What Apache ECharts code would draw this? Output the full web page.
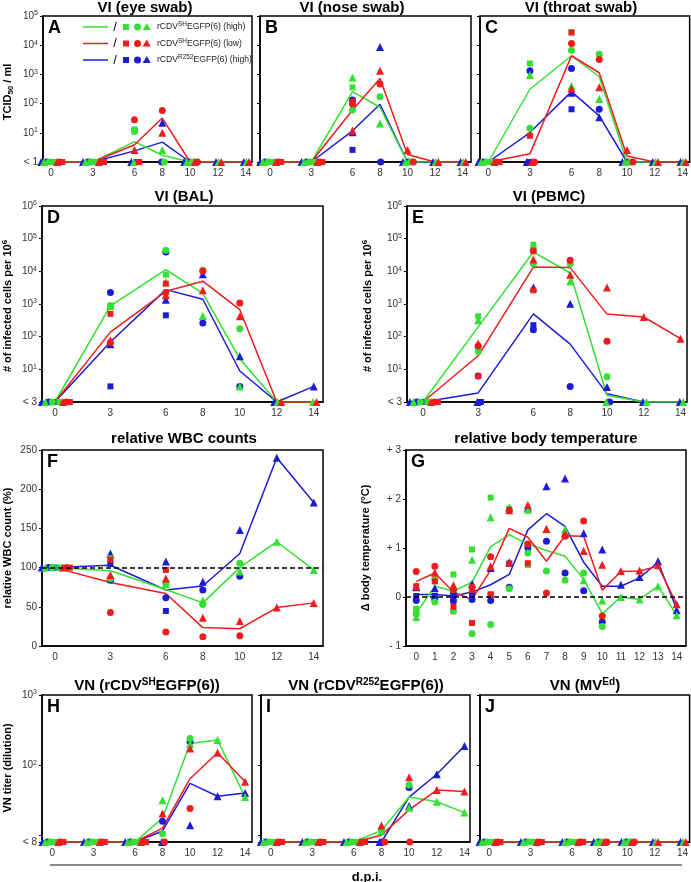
<!DOCTYPE html>
<html><head><meta charset="utf-8">
<script src="https://cdn.jsdelivr.net/npm/echarts@6/dist/echarts.min.js"></script>
<style>html,body{margin:0;padding:0;background:#fff}#c{width:691px;height:882px}</style>
</head><body><div id="c"></div><script>
// ---------- days & tick labels ----------
const days = [0, 3, 6, 8, 10, 12, 14];
const daysG = [0, 1, 2, 3, 4, 5, 6, 7, 8, 9, 10, 11, 12, 13, 14];
const xTicks = [0, 3, 6, 8, 10, 12, 14];
const xTicksG = [0, 1, 2, 3, 4, 5, 6, 7, 8, 9, 10, 11, 12, 13, 14];

// ---------- A: VI eye swab (TCID50/ml, <1 plotted at 1) ----------
const A_g_sq = [1, 1, 13, null, null, null, null];
const A_g_ci = [1, 1, 11, 1, 1, null, null];
const A_g_tr = [1, 1, 1, 2.6, 1, 1, 1];
const A_r_sq = [1, 1, 1, null, null, null, null];
const A_r_ci = [1, 1, 28, 58, 1, null, null];
const A_r_tr = [1, 1, 2.6, 10, 1, 1, 1];
const A_b_sq = [1, 1, 1, null, null, null, null];
const A_b_ci = [1, 1, 12, 1, 1, null, null];
const A_b_tr = [1, 1, 1, 22, 1, 1, 1];
const A_g_line = [1, 1, 5, 1.7, 1, 1, 1];
const A_r_line = [1, 1, 3.9, 32, 1, 1, 1];
const A_b_line = [1, 1, 2.4, 4.8, 1, 1, 1];

// ---------- B: VI nose swab ----------
const B_g_sq = [1, 1, 360, null, null, null, null];
const B_g_ci = [1, 1, 60, 173, 1, null, null];
const B_g_tr = [1, 1, 790, 21, 1, 1, 1];
const B_r_sq = [1, 1, 117, null, null, null, null];
const B_r_ci = [1, 1, 97, 470, 1, null, null];
const B_r_tr = [1, 1, 12, 1330, 2.6, 1, 1];
const B_b_sq = [1, 1, 2.6, null, null, null, null];
const B_b_ci = [1, 1, 133, 1, 1, null, null];
const B_b_tr = [1, 1, 10.5, 8700, 1, 1, 1];
const B_g_line = [1, 1, 257, 75, 1, 1, 1];
const B_r_line = [1, 1, 60, 730, 1.8, 1, 1];
const B_b_line = [1, 1, 11.7, 95, 1, 1, 1];

// ---------- C: VI throat swab ----------
const C_g_sq = [1, 2370, 28300, null, null, null, null];
const C_g_ci = [1, 14.4, 6700, 4900, 1, null, null];
const C_g_tr = [1, 950, 400, 145, 1, 1, 1];
const C_r_sq = [1, 7.9, 27000, null, null, null, null];
const C_r_ci = [1, 1, 11500, 3240, 1, null, null];
const C_r_tr = [1, 1, 330, 360, 2.6, 1, 1];
const C_b_sq = [1, 1, 64, null, null, null, null];
const C_b_ci = [1, 1330, 1600, 64, 1, null, null];
const C_b_tr = [1, 1, 237, 34, 1, 1, 1];
const C_g_line = [1, 310, 4350, 830, 1, 1, 1];
const C_r_line = [1, 1.9, 4350, 1140, 1.6, 1, 1];
const C_b_line = [1, 10.2, 257, 38, 1, 1, 1];

// ---------- D: VI BAL (<3 plotted at 1) ----------
const D_g_sq = [1, 900, 7900, null, null, null, null];
const D_g_ci = [1, 870, 44000, 10700, 175, null, null];
const D_g_tr = [1, 870, 4700, 430, 3, 1, 1];
const D_r_sq = [1, 500, 4200, null, null, null, null];
const D_r_ci = [1, 66, 2250, 10200, 1070, null, null];
const D_r_tr = [1, 78, 1860, 2630, 420, 1, 1];
const D_b_sq = [1, 3, 450, null, null, null, null];
const D_b_ci = [1, 2240, 39000, 260, 3, null, null];
const D_b_tr = [1, 59, 1350, 8100, 25, 1, 3];
const D_g_line = [1, 870, 11200, 2100, 21, 1, 1];
const D_r_line = [1, 138, 2450, 5000, 670, 1, 1];
const D_b_line = [1, 69, 2750, 1400, 8.9, 1, 3];

// ---------- E: VI PBMC ----------
const E_g_sq = [1, 420, 65000, null, null, null, null];
const E_g_ci = [1, 35, 17000, 17000, 5.9, null, null];
const E_g_tr = [1, 316, 63000, 4900, 1, 1, 1];
const E_r_sq = [1, 6.2, 2630, null, null, null, null];
const E_r_ci = [1, 52, 42000, 22000, 72, null, null];
const E_r_tr = [1, 62, 23000, 7900, 3200, 400, 87];
const E_b_sq = [1, 1, 225, null, null, null, null];
const E_b_ci = [1, 6.2, 164, 3, 1, null, null];
const E_b_tr = [1, 1, 3200, 1020, 2.9, 1, 1];
const E_g_line = [1, 200, 39000, 8900, 1.6, 1, 1];
const E_r_line = [1, 26, 13500, 13000, 490, 400, 87];
const E_b_line = [1, 1.9, 500, 59, 1.8, 1, 1];

// ---------- F: relative WBC counts (%) ----------
const F_g_sq = [100, 112, 79, null, null, null, null];
const F_g_ci = [100, 86, 80, 53, 105.5, null, null];
const F_g_tr = [100, 90, 79, 58, 95, 133, 97];
const F_r_sq = [100, 110, 97, null, null, null, null];
const F_r_ci = [100, 42.6, 18, 11.8, 13, null, null];
const F_r_tr = [100, 90.6, 86, 36, 32, 49, 55];
const F_b_sq = [100, 104.7, 44.7, null, null, null, null];
const F_b_ci = [100, 84, 61.7, 71.5, 89, null, null];
const F_b_tr = [100, 118, 107.7, 82, 148, 240, 183];
const F_g_line = [100, 96, 72, 55, 100, 133, 97];
const F_r_line = [100, 81, 67, 23.5, 22, 49, 55];
const F_b_line = [100, 103, 71.5, 76.6, 118, 240, 183];

// ---------- G: relative body temperature (°C) ----------
const G_g_sq = [-0.24, 0.32, 0.46, 0.97, 2.03, 1.8, 0.65, null, null, null, null, null, null, null, null];
const G_g_ci = [-0.34, -0.1, -0.29, -0.75, -0.56, 0.17, 0.9, 0.53, 0.34, 0.49, -0.6, null, null, null, null];
const G_g_tr = [-0.41, 0.44, 0.19, 0.76, 1.63, 1.83, 1.78, 1.39, 1.38, 0.34, -0.07, 0, -0.05, 0.22, -0.37];
const G_r_sq = [0.22, 0.32, -0.2, -0.53, 0.05, 0.68, 0.69, null, null, null, null, null, null, null, null];
const G_r_ci = [0.52, 0.63, 0.15, 0.2, 0.82, 1.77, 1.08, 0.08, 1.24, 1.55, -0.39, null, null, null, null];
const G_r_tr = [0.22, 0.5, 0.24, 0.17, 0.63, 1.77, 1.88, 1.39, 1.29, 0.94, 0.66, 0.53, 0.54, 0.65, -0.15];
const G_b_sq = [0.02, 0.02, 0.0, 0.05, 0.05, 0.68, 1.05, null, null, null, null, null, null, null, null];
const G_b_ci = [-0.07, -0.05, -0.08, -0.05, -0.07, 0.2, 1.0, 1.14, 0.49, 0.13, -0.51, null, null, null, null];
const G_b_tr = [0.2, 0.18, 0.14, 0.27, 0.59, 0.71, 1.82, 2.26, 2.42, 1.3, 0.97, 0.25, 0.41, 0.73, -0.27];
const G_g_line = [-0.33, 0.22, 0.12, 0.3, 1.03, 1.27, 1.08, 0.95, 0.83, 0.36, -0.34, 0, -0.05, 0.22, -0.37];
const G_r_line = [0.32, 0.49, 0.1, -0.05, 0.55, 1.4, 1.22, 0.73, 1.25, 1.24, 0.14, 0.52, 0.53, 0.63, -0.15];
const G_b_line = [0.05, 0.05, 0.02, 0.1, 0.25, 0.46, 1.37, 1.7, 1.44, 0.71, 0.22, 0.22, 0.39, 0.71, -0.25];

// ---------- H: VN rCDV-SH (<8 plotted at 8) ----------
const H_g_sq = [8, 8, 8, null, null, null, null];
const H_g_ci = [8, 8, 8, 10.5, 240, null, null];
const H_g_tr = [8, 8, 8, 31.6, 200, 228, 35];
const H_r_sq = [8, 8, 8, null, null, null, null];
const H_r_ci = [8, 8, 8, 8, 24, null, null];
const H_r_tr = [8, 8, 8, 20.4, 173, 150, 58];
const H_b_sq = [8, 8, 8, null, null, null, null];
const H_b_ci = [8, 8, 8, 15.8, 215, null, null];
const H_b_tr = [8, 8, 8, 8, 13.9, 36, 40];
const H_g_line = [8, 8, 8, 17.5, 204, 228, 35];
const H_r_line = [8, 8, 8, 12.6, 64, 150, 58];
const H_b_line = [8, 8, 8, 11.5, 55, 36, 40];

// ---------- I: VN rCDV-R252 ----------
const I_g_sq = [8, 8, 8, null, null, null, null];
const I_g_ci = [8, 8, 8, 12, 52, null, null];
const I_g_tr = [8, 8, 8, 11.4, 24.6, 30, 21];
const I_r_sq = [8, 8, 8, null, null, null, null];
const I_r_ci = [8, 8, 8, 8, 8, null, null];
const I_r_tr = [8, 8, 8, 13.8, 67, 44, 42];
const I_b_sq = [8, 8, 8, null, null, null, null];
const I_b_ci = [8, 8, 8, 8, 48, null, null];
const I_b_tr = [8, 8, 8, 8, 26, 74, 187];
const I_g_line = [8, 8, 8, 11.7, 35, 30, 21];
const I_r_line = [8, 8, 8, 10, 23, 44, 42];
const I_b_line = [8, 8, 8, 8, 35, 74, 187];

// ---------- J: VN MV-Ed ----------
const J_g_sq = [8, 8, 8, null, null, null, null];
const J_g_ci = [8, 8, 8, 8, 8, null, null];
const J_g_tr = [8, 8, 8, 8, 8, 8, 8];
const J_r_sq = [8, 8, 8, null, null, null, null];
const J_r_ci = [8, 8, 8, 8, 8, null, null];
const J_r_tr = [8, 8, 8, 8, 8, 8, 8];
const J_b_sq = [8, 8, 8, null, null, null, null];
const J_b_ci = [8, 8, 8, 8, 8, null, null];
const J_b_tr = [8, 8, 8, 8, 8, 8, 8];
const J_g_line = [8, 8, 8, 8, 8, 8, 8];
const J_r_line = [8, 8, 8, 8, 8, 8, 8];
const J_b_line = [8, 8, 8, 8, 8, 8, 8];

// ---------- text ----------
const titles = ['VI (eye swab)', 'VI (nose swab)', 'VI (throat swab)', 'VI (BAL)', 'VI (PBMC)',
  'relative WBC counts', 'relative body temperature',
  'VN (rCDV{sup|SH}EGFP(6))', 'VN (rCDV{sup|R252}EGFP(6))', 'VN (MV{sup|Ed})'];
const legendTexts = ['rCDV{sup|SH}EGFP(6) (high)', 'rCDV{sup|SH}EGFP(6) (low)', 'rCDV{sup|R252}EGFP(6) (high)'];

// ---------- layout / style ----------
const FONT = '"Liberation Sans", Arial, Helvetica, sans-serif';
const COL = { g: '#33e033', r: '#ee1c1c', b: '#1c1cd4' };
const SHAPES = ['rect', 'circle', 'triangle'];
const SIZES = [6, 7, 8];

const P = [
  { k: 'A', left: 43, top: 16, w: 209, h: 146, xMin: -0.58, xMax: 14.45, log: true, yMin: 1, yMax: 1e5, lodTxt: '< 1', yLab: true, tx: 145, ty: 8, x: days, xt: xTicks, jit: 1,
    d: { g: [A_g_sq, A_g_ci, A_g_tr, A_g_line], r: [A_r_sq, A_r_ci, A_r_tr, A_r_line], b: [A_b_sq, A_b_ci, A_b_tr, A_b_line] } },
  { k: 'B', left: 260, top: 16, w: 211, h: 146, xMin: -0.73, xMax: 14.62, log: true, yMin: 1, yMax: 1e5, lodTxt: '< 1', yLab: false, tx: 352, ty: 8, x: days, xt: xTicks, jit: 1,
    d: { g: [B_g_sq, B_g_ci, B_g_tr, B_g_line], r: [B_r_sq, B_r_ci, B_r_tr, B_r_line], b: [B_b_sq, B_b_ci, B_b_tr, B_b_line] } },
  { k: 'C', left: 480, top: 16, w: 210, h: 146, xMin: -0.6, xMax: 14.52, log: true, yMin: 1, yMax: 1e5, lodTxt: '< 1', yLab: false, tx: 581, ty: 8, x: days, xt: xTicks, jit: 1,
    d: { g: [C_g_sq, C_g_ci, C_g_tr, C_g_line], r: [C_r_sq, C_r_ci, C_r_tr, C_r_line], b: [C_b_sq, C_b_ci, C_b_tr, C_b_line] } },
  { k: 'D', left: 42, top: 206, w: 281, h: 196, xMin: -0.7, xMax: 14.5, log: true, yMin: 1, yMax: 1e6, lodTxt: '< 3', yLab: true, tx: 184, ty: 197, x: days, xt: xTicks, jit: 1,
    d: { g: [D_g_sq, D_g_ci, D_g_tr, D_g_line], r: [D_r_sq, D_r_ci, D_r_tr, D_r_line], b: [D_b_sq, D_b_ci, D_b_tr, D_b_line] } },
  { k: 'E', left: 407, top: 206, w: 280, h: 196, xMin: -0.87, xMax: 14.35, log: true, yMin: 1, yMax: 1e6, lodTxt: '< 3', yLab: true, tx: 549, ty: 197, x: days, xt: xTicks, jit: 1,
    d: { g: [E_g_sq, E_g_ci, E_g_tr, E_g_line], r: [E_r_sq, E_r_ci, E_r_tr, E_r_line], b: [E_b_sq, E_b_ci, E_b_tr, E_b_line] } },
  { k: 'F', left: 42, top: 450, w: 281, h: 196, xMin: -0.7, xMax: 14.5, log: false, yMin: 0, yMax: 250, yInt: 50, yLab: true, tx: 184, ty: 439, x: days, xt: xTicks, jit: 100, jitDays: [0], ref: 100,
    d: { g: [F_g_sq, F_g_ci, F_g_tr, F_g_line], r: [F_r_sq, F_r_ci, F_r_tr, F_r_line], b: [F_b_sq, F_b_ci, F_b_tr, F_b_line] } },
  { k: 'G', left: 406, top: 450, w: 280, h: 196, xMin: -0.55, xMax: 14.5, log: false, yMin: -1, yMax: 3, yInt: 1, yLab: true, temp: true, tx: 546, ty: 439, x: daysG, xt: xTicksG, jit: null, ref: 0,
    d: { g: [G_g_sq, G_g_ci, G_g_tr, G_g_line], r: [G_r_sq, G_r_ci, G_r_tr, G_r_line], b: [G_b_sq, G_b_ci, G_b_tr, G_b_line] } },
  { k: 'H', left: 42, top: 695, w: 210, h: 147, xMin: -0.75, xMax: 14.5, log: true, yMin: 8, yMax: 1000, lodTxt: '< 8', yLab: true, tx: 147, ty: 686, x: days, xt: xTicks, jit: 8,
    d: { g: [H_g_sq, H_g_ci, H_g_tr, H_g_line], r: [H_r_sq, H_r_ci, H_r_tr, H_r_line], b: [H_b_sq, H_b_ci, H_b_tr, H_b_line] } },
  { k: 'I', left: 261, top: 695, w: 209, h: 147, xMin: -0.7, xMax: 14.4, log: true, yMin: 8, yMax: 1000, lodTxt: '< 8', yLab: false, tx: 366, ty: 686, x: days, xt: xTicks, jit: 8,
    d: { g: [I_g_sq, I_g_ci, I_g_tr, I_g_line], r: [I_r_sq, I_r_ci, I_r_tr, I_r_line], b: [I_b_sq, I_b_ci, I_b_tr, I_b_line] } },
  { k: 'J', left: 480, top: 695, w: 210, h: 147, xMin: -0.67, xMax: 14.52, log: true, yMin: 8, yMax: 1000, lodTxt: '< 8', yLab: false, tx: 585, ty: 686, x: days, xt: xTicks, jit: 8,
    d: { g: [J_g_sq, J_g_ci, J_g_tr, J_g_line], r: [J_r_sq, J_r_ci, J_r_tr, J_r_line], b: [J_b_sq, J_b_ci, J_b_tr, J_b_line] } }
];

// order in which markers sitting on the detection limit are spread side by side
const ORDER = [['b', 2], ['g', 2], ['b', 1], ['g', 1], ['b', 0], ['g', 0], ['r', 2], ['r', 1], ['r', 0]];
const JSTEP = 0.19;
function jitterMap(p) {
  const m = {};
  if (p.jit == null) return m;
  p.x.forEach((d, k) => {
    if (p.jitDays && p.jitDays.indexOf(d) < 0) return;
    const list = ORDER.filter(([g, s]) => { const v = p.d[g][s][k]; return v != null && v === p.jit; });
    const n = list.length;
    list.forEach(([g, s], i) => { m[g + s + '_' + k] = (i - (n - 1) / 2) * JSTEP + 0.05; });
  });
  return m;
}

const labRich = { s: { fontSize: 7, lineHeight: 7, verticalAlign: 'top', color: '#333', fontFamily: FONT } };
function logFmt(p) {
  return function (v) {
    if (Math.abs(v - p.yMin) / p.yMin < 0.05) return p.lodTxt;
    const l = Math.log10(v), e = Math.round(l);
    if (Math.abs(l - e) > 0.01) return '';
    if (p.yMin === 8 && e === 1) return '';
    return '10{s|' + e + '}';
  };
}

const grids = [], xAxes = [], yAxes = [], series = [];
P.forEach((p, i) => {
  grids.push({ left: p.left, top: p.top, width: p.w, height: p.h, show: true, borderColor: '#000', borderWidth: 1.5, backgroundColor: 'transparent' });
  xAxes.push({
    gridIndex: i, type: 'value', min: p.xMin, max: p.xMax,
    axisLine: { show: true, onZero: false, lineStyle: { color: '#000', width: 1.5 } },
    axisTick: { show: false }, splitLine: { show: false },
    axisLabel: { customValues: p.xt, fontSize: 10, color: '#333', margin: 6, fontFamily: FONT }
  });
  const ya = {
    gridIndex: i,
    axisLine: { show: true, onZero: false, lineStyle: { color: '#000', width: 1.5 } },
    splitLine: { show: false },
    axisTick: { show: true, length: 3, lineStyle: { color: '#000', width: 1 } },
    axisLabel: { show: p.yLab, fontSize: 10, color: '#333', margin: 5, lineHeight: 12, fontFamily: FONT, rich: labRich }
  };
  if (p.log) {
    ya.type = 'log'; ya.logBase = 10; ya.min = p.yMin; ya.max = p.yMax;
    ya.axisLabel.formatter = logFmt(p);
  } else {
    ya.type = 'value'; ya.min = p.yMin; ya.max = p.yMax; ya.interval = p.yInt;
    if (p.temp) ya.axisLabel.formatter = v => v > 0 ? '+ ' + v : (v < 0 ? '- ' + (-v) : '0');
  }
  yAxes.push(ya);

  ['b', 'g', 'r'].forEach((g, gi) => {
    const s = {
      type: 'line', xAxisIndex: i, yAxisIndex: i, symbol: 'none', silent: true, animation: false, z: 2,
      data: p.x.map((d, k) => [d, p.d[g][3][k]]),
      lineStyle: { color: COL[g], width: 1.5 }
    };
    if (gi === 0 && p.ref != null) {
      s.markLine = { silent: true, symbol: ['none', 'none'], label: { show: false }, animation: false,
        lineStyle: { type: [5, 3], color: '#000', width: 1.5 }, data: [{ yAxis: p.ref }] };
    }
    series.push(s);
  });
  const jm = jitterMap(p);
  ['b', 'g', 'r'].forEach(g => {
    [0, 1, 2].forEach(sh => {
      const arr = p.d[g][sh];
      const data = [];
      p.x.forEach((d, k) => {
        const v = arr[k];
        if (v == null) return;
        data.push([d + (jm[g + sh + '_' + k] || 0), v]);
      });
      series.push({
        type: 'scatter', xAxisIndex: i, yAxisIndex: i, data, symbol: SHAPES[sh], symbolSize: SIZES[sh],
        itemStyle: { color: COL[g], opacity: 1 }, clip: false, z: 3, silent: true, animation: false
      });
    });
  });
});

// ---------- graphic (titles, letters, axis names, legend, footer) ----------
const graphic = [];
const titleRich = { sup: { fontSize: 10, lineHeight: 10, fontWeight: 'bold', verticalAlign: 'top', fill: '#000', fontFamily: FONT } };
P.forEach((p, i) => {
  graphic.push({ type: 'text', x: p.tx, y: p.ty, z: 100, silent: true,
    style: { text: titles[i], fill: '#000', fontSize: 15, fontWeight: 'bold', fontFamily: FONT, lineHeight: 18,
      align: 'center', verticalAlign: 'middle', rich: titleRich } });
  graphic.push({ type: 'text', x: p.left + 5, y: p.top + 3, z: 100, silent: true,
    style: { text: p.k, fill: '#000', fontSize: 18, fontWeight: 'bold', fontFamily: FONT, align: 'left', verticalAlign: 'top' } });
});
const nameRich = {
  sub: { fontSize: 8, lineHeight: 8, fontWeight: 'bold', verticalAlign: 'bottom', fill: '#000', fontFamily: FONT },
  sup: { fontSize: 8, lineHeight: 8, fontWeight: 'bold', verticalAlign: 'top', fill: '#000', fontFamily: FONT }
};
[
  [8, 92, 'TCID{sub|50} / ml'],
  [8, 306, '# of infected cells per 10{sup|6}'],
  [368, 306, '# of infected cells per 10{sup|6}'],
  [8, 548, 'relative WBC count (%)'],
  [366, 548, 'Δ body temperature (°C)'],
  [8, 768, 'VN titer (dilution)']
].forEach(([x, y, t]) => {
  graphic.push({ type: 'text', x, y, rotation: Math.PI / 2, z: 100, silent: true,
    style: { text: t, fill: '#000', fontSize: 11, fontWeight: 'bold', fontFamily: FONT, lineHeight: 14,
      align: 'center', verticalAlign: 'middle', rich: nameRich } });
});
// legend in panel A
const legRich = { sup: { fontSize: 6.5, lineHeight: 6, verticalAlign: 'top', fill: '#222', fontFamily: FONT } };
['g', 'r', 'b'].forEach((g, r) => {
  const y = [27, 43.5, 60][r];
  graphic.push({ type: 'line', z: 100, silent: true, shape: { x1: 83, y1: y, x2: 108, y2: y }, style: { stroke: COL[g], lineWidth: 1.5 } });
  graphic.push({ type: 'text', x: 115, y: y, z: 100, silent: true, style: { text: '/', fill: '#000', fontSize: 13, fontFamily: FONT, align: 'center', verticalAlign: 'middle' } });
  graphic.push({ type: 'rect', z: 100, silent: true, shape: { x: 123, y: y - 3, width: 6, height: 6 }, style: { fill: COL[g] } });
  graphic.push({ type: 'circle', z: 100, silent: true, shape: { cx: 137.5, cy: y, r: 3.5 }, style: { fill: COL[g] } });
  graphic.push({ type: 'polygon', z: 100, silent: true, shape: { points: [[146.7, y - 4], [150.7, y + 3], [142.7, y + 3]] }, style: { fill: COL[g] } });
  graphic.push({ type: 'text', x: 157, y: y, z: 100, silent: true,
    style: { text: legendTexts[r], fill: '#222', fontSize: 8.6, fontFamily: FONT, lineHeight: 12, align: 'left', verticalAlign: 'middle', rich: legRich } });
});
graphic.push({ type: 'line', z: 100, silent: true, shape: { x1: 50, y1: 865, x2: 682, y2: 865 }, style: { stroke: '#666', lineWidth: 1.5 } });
graphic.push({ type: 'text', x: 367, y: 877, z: 100, silent: true,
  style: { text: 'd.p.i.', fill: '#000', fontSize: 13, fontWeight: 'bold', fontFamily: FONT, align: 'center', verticalAlign: 'middle' } });

const chart = echarts.init(document.getElementById('c'), null, { renderer: 'canvas' });
chart.setOption({
  animation: false,
  backgroundColor: '#fff',
  textStyle: { fontFamily: FONT },
  grid: grids, xAxis: xAxes, yAxis: yAxes, series, graphic
});
</script></body></html>
